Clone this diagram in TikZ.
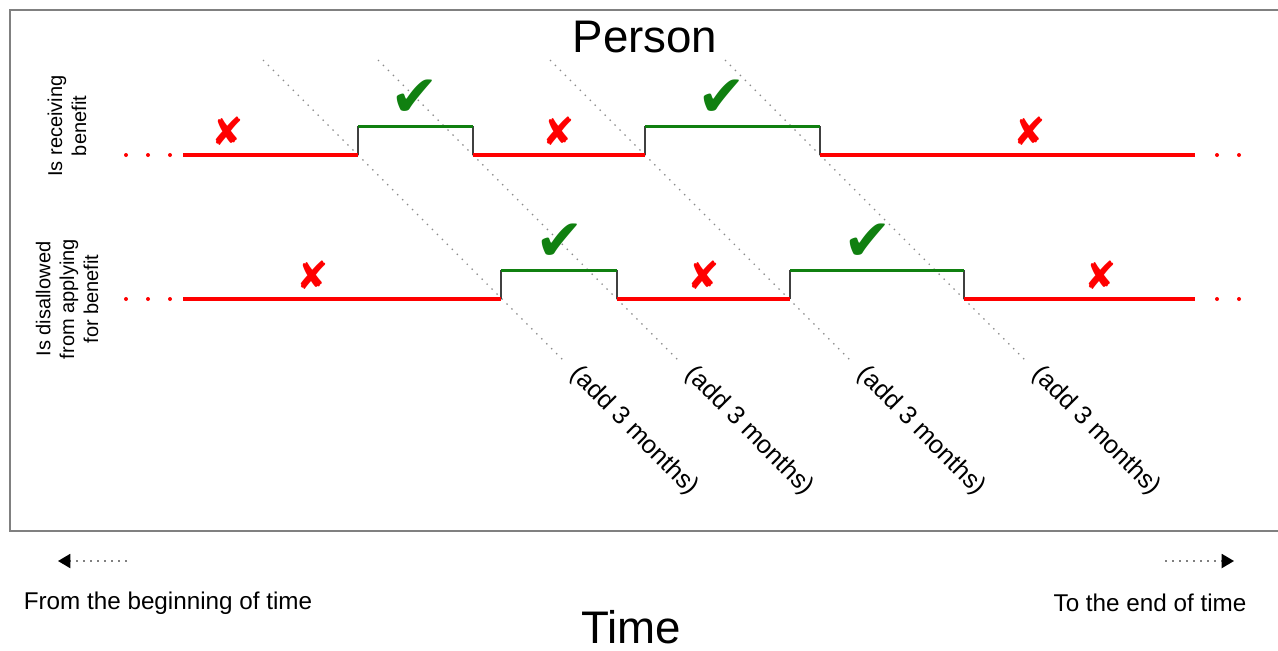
\documentclass[tikz,border=0pt]{standalone}
\usepackage{fontspec}
\setmainfont{Liberation Sans}
\newfontfamily\marksfont{DejaVu Sans}
\usetikzlibrary{arrows.meta}

\definecolor{offred}{RGB}{255,0,0}
\definecolor{ongreen}{RGB}{16,128,16}
\definecolor{framegray}{RGB}{128,128,128}

\begin{document}
\begin{tikzpicture}[x=0.02cm, y=-0.02cm]
        \tikzstyle{every node}=[inner sep=0pt, outer sep=0pt]
        \tikzstyle{off}=[offred, line width=1.9pt]
        \tikzstyle{on}=[ongreen, line width=1.7pt]
        \tikzstyle{riser}=[black!75, line width=0.7pt]
        \tikzstyle{lag}=[gray!90, line width=0.8pt, dash pattern=on 0.8pt off 3.2pt]
        \tikzstyle{yes}=[text=ongreen, font=\marksfont\fontsize{33}{33}\selectfont]
        \tikzstyle{no}=[text=offred, font=\marksfont\fontsize{22}{22}\selectfont]
        \tikzstyle{rowlabel}=[rotate=90, align=center, font=\fontsize{11.4}{13.6}\selectfont]
        \tikzstyle{addlabel}=[rotate=-45, anchor=west, font=\fontsize{14.4}{14.4}\selectfont]
        \tikzstyle{endlabel}=[font=\fontsize{13.8}{13.8}\selectfont]
        \tikzstyle{title}=[font=\fontsize{26}{26}\selectfont]
        \tikzstyle{timeline}=[gray, line width=1pt, dash pattern=on 1pt off 3pt, -{Triangle[length=7pt, width=8pt, black]}]

        \useasboundingbox (0,0) rectangle (1278,650);
        \draw[framegray, line width=1.2pt] (1278,10) -- (10,10) -- (10,531) -- (1278,531);

        \node[title] (person) at (645,37) {Person};

        % dotted 3 month shifts
        \foreach \x/\n in {358/1, 473/2, 645/3, 820/4} {
            \coordinate (lagtop\n) at (\x-95,60);
            \coordinate (lagend\n) at (\x+207,362);
            \draw[lag] (lagtop\n) -- (lagend\n);
            \node[addlabel] (add\n) at (\x+216,371) {(add 3 months)};
        }

        % the two rows: low line, then the four switch points
        \foreach \y/\a/\b/\c/\d in {155/358/473/645/820, 299/501/617/790/964} {
            \draw[riser] (\a,\y) -- (\a,\y-29) (\b,\y-29) -- (\b,\y) (\c,\y) -- (\c,\y-29) (\d,\y-29) -- (\d,\y);
            \draw[off] (183,\y) -- (\a,\y) (\b,\y) -- (\c,\y) (\d,\y) -- (1195,\y);
            \draw[on] (\a,\y-29) -- (\b,\y-29) (\c,\y-29) -- (\d,\y-29);
            \foreach \x in {126,148,170,1217,1239}
                \fill[offred] (\x,\y) circle (2);
        }

        \node[rowlabel] (receiving) at (67,126) {Is receiving\\benefit};
        \node[rowlabel] (disallowed) at (67,299) {Is disallowed\\from applying\\for benefit};

        \node[no] (no1) at (228,131) {✘};
        \node[yes] (yes1) at (415,98) {✔};
        \node[no] (no2) at (559,131) {✘};
        \node[yes] (yes2) at (722,98) {✔};
        \node[no] (no3) at (1030,131) {✘};
        \node[no] (no4) at (313,275) {✘};
        \node[yes] (yes3) at (560,242) {✔};
        \node[no] (no5) at (704,275) {✘};
        \node[yes] (yes4) at (868,242) {✔};
        \node[no] (no6) at (1101,275) {✘};

        \coordinate (pastdots) at (127,561);
        \coordinate (past) at (58,561);
        \coordinate (futuredots) at (1165,561);
        \coordinate (future) at (1234,561);
        \draw[timeline] (pastdots) -- (past);
        \draw[timeline] (futuredots) -- (future);

        \node[endlabel] (fromlabel) at (168,603) {From the beginning of time};
        \node[endlabel] (tolabel) at (1150,603) {To the end of time};
        \node[title] (time) at (631,627) {Time};
    \end{tikzpicture}
\end{document}
